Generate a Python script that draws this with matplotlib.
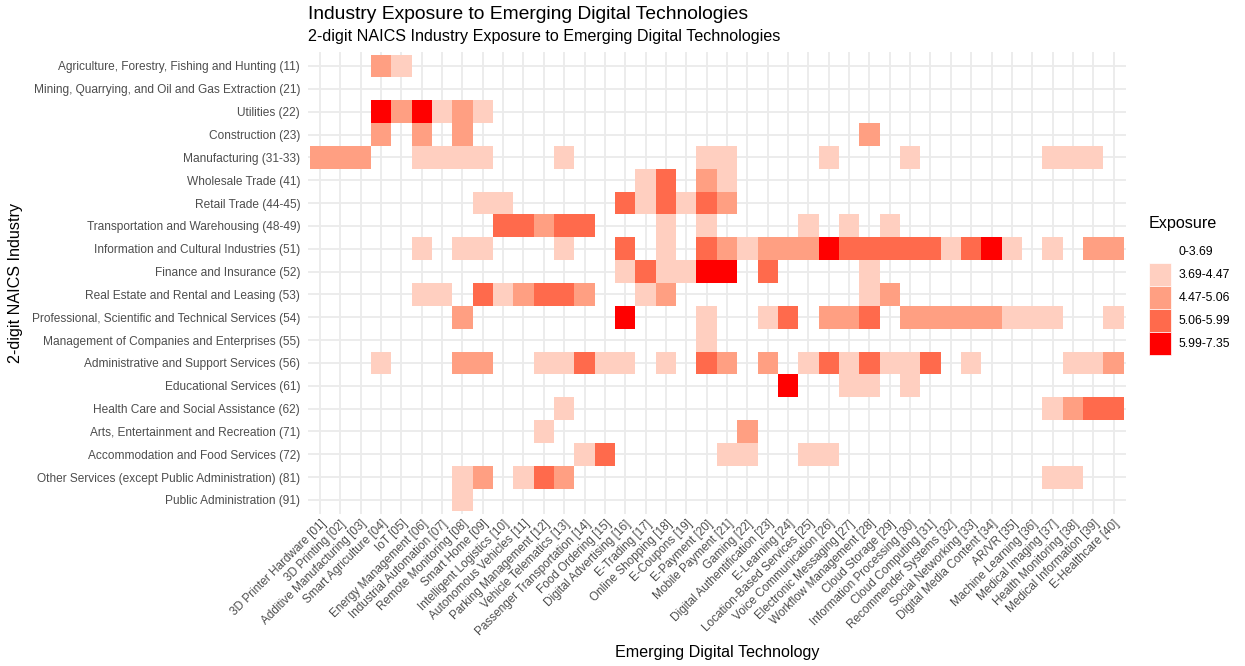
import numpy as np
import matplotlib.pyplot as plt
from matplotlib.colors import ListedColormap, BoundaryNorm
from matplotlib.patches import Patch

plt.rcParams['font.family'] = ['Liberation Sans', 'DejaVu Sans']

industries = [
    'Agriculture, Forestry, Fishing and Hunting (11)',
    'Mining, Quarrying, and Oil and Gas Extraction (21)',
    'Utilities (22)',
    'Construction (23)',
    'Manufacturing (31-33)',
    'Wholesale Trade (41)',
    'Retail Trade (44-45)',
    'Transportation and Warehousing (48-49)',
    'Information and Cultural Industries (51)',
    'Finance and Insurance (52)',
    'Real Estate and Rental and Leasing (53)',
    'Professional, Scientific and Technical Services (54)',
    'Management of Companies and Enterprises (55)',
    'Administrative and Support Services (56)',
    'Educational Services (61)',
    'Health Care and Social Assistance (62)',
    'Arts, Entertainment and Recreation (71)',
    'Accommodation and Food Services (72)',
    'Other Services (except Public Administration) (81)',
    'Public Administration (91)',
]

technologies = [
    '3D Printer Hardware', '3D Printing', 'Additive Manufacturing', 'Smart Agriculture',
    'IoT', 'Energy Management', 'Industrial Automation', 'Remote Monitoring',
    'Smart Home', 'Intelligent Logistics', 'Autonomous Vehicles', 'Parking Management',
    'Vehicle Telematics', 'Passenger Transportation', 'Food Ordering', 'Digital Advertising',
    'E-Trading', 'Online Shopping', 'E-Coupons', 'E-Payment',
    'Mobile Payment', 'Gaming', 'Digital Authentification', 'E-Learning',
    'Location-Based Services', 'Voice Communication', 'Electronic Messaging', 'Workflow Management',
    'Cloud Storage', 'Information Processing', 'Cloud Computing', 'Recommender Systems',
    'Social Networking', 'Digital Media Content', 'AR/VR', 'Machine Learning',
    'Medical Imaging', 'Health Monitoring', 'Medical Information', 'E-Healthcare',
]

# exposure per industry: {technology number: score}, missing = no tile
exposure = [
    {4: 4.8, 5: 4.1},
    {},
    {4: 6.6, 5: 4.8, 6: 6.6, 7: 4.1, 8: 4.8, 9: 4.1},
    {4: 4.8, 6: 4.8, 8: 4.8, 28: 4.8},
    {1: 4.8, 2: 4.8, 3: 4.8, 6: 4.1, 7: 4.1, 8: 4.1, 9: 4.1, 13: 4.1, 20: 4.1, 21: 4.1,
     26: 4.1, 30: 4.1, 37: 4.1, 38: 4.1, 39: 4.1},
    {17: 4.1, 18: 5.5, 20: 4.8, 21: 4.1},
    {9: 4.1, 10: 4.1, 16: 5.5, 17: 4.1, 18: 5.5, 19: 4.1, 20: 5.5, 21: 4.8},
    {10: 5.5, 11: 5.5, 12: 4.8, 13: 5.5, 14: 5.5, 18: 4.1, 20: 4.1, 25: 4.1, 27: 4.1, 29: 4.1},
    {6: 4.1, 8: 4.1, 9: 4.1, 13: 4.1, 16: 5.5, 18: 4.1, 20: 5.5, 21: 4.8, 22: 4.1, 23: 4.8,
     24: 4.8, 25: 4.8, 26: 6.6, 27: 5.5, 28: 5.5, 29: 5.5, 30: 5.5, 31: 5.5, 32: 4.1,
     33: 5.5, 34: 6.6, 35: 4.1, 37: 4.1, 39: 4.8, 40: 4.8},
    {16: 4.1, 17: 5.5, 18: 4.1, 19: 4.1, 20: 6.6, 21: 6.6, 23: 5.5, 28: 4.1},
    {6: 4.1, 7: 4.1, 9: 5.5, 10: 4.1, 11: 4.8, 12: 5.5, 13: 5.5, 14: 4.8, 17: 4.1, 18: 4.8,
     28: 4.1, 29: 4.8},
    {8: 4.8, 16: 6.6, 20: 4.1, 23: 4.1, 24: 5.5, 26: 4.8, 27: 4.8, 28: 5.5, 30: 4.8, 31: 4.8,
     32: 4.8, 33: 4.8, 34: 4.8, 35: 4.1, 36: 4.1, 37: 4.1, 40: 4.1},
    {20: 4.1},
    {4: 4.1, 8: 4.8, 9: 4.8, 12: 4.1, 13: 4.1, 14: 5.5, 15: 4.1, 16: 4.1, 18: 4.1, 20: 5.5,
     21: 4.8, 23: 4.8, 25: 4.1, 26: 5.5, 27: 4.1, 28: 5.5, 29: 4.1, 30: 4.1, 31: 5.5, 33: 4.1,
     38: 4.1, 39: 4.1, 40: 4.8},
    {24: 6.6, 27: 4.1, 28: 4.1, 30: 4.1},
    {13: 4.1, 37: 4.1, 38: 4.8, 39: 5.5, 40: 5.5},
    {12: 4.1, 22: 4.8},
    {14: 4.1, 15: 5.5, 21: 4.1, 22: 4.1, 25: 4.1, 26: 4.1},
    {8: 4.1, 9: 4.8, 11: 4.1, 12: 5.5, 13: 4.8, 37: 4.1, 38: 4.1},
    {8: 4.1},
]

breaks = [0, 3.69, 4.47, 5.06, 5.99, 7.35]
bin_labels = ['0-3.69', '3.69-4.47', '4.47-5.06', '5.06-5.99', '5.99-7.35']
bin_colors = ['#FFFFFF', '#FFCFC0', '#FF9F82', '#FF6A4C', '#FF0000']

n_ind = len(industries)
n_tech = len(technologies)
grid = np.full((n_ind, n_tech), np.nan)
for i, row in enumerate(exposure):
    for t, v in row.items():
        grid[i, t - 1] = v

cmap = ListedColormap(bin_colors)
norm = BoundaryNorm(breaks, cmap.N)

fig = plt.figure(figsize=(12.45, 6.66), dpi=100)
ax = fig.add_axes([0.2472, 0.2287, 0.9043 - 0.2472, 0.9215 - 0.2287])
ax.set_axisbelow(True)

xe = np.arange(n_tech + 1) + 0.5
ye = np.arange(n_ind + 1) + 0.5
ax.pcolormesh(xe, ye, np.ma.masked_invalid(grid), cmap=cmap, norm=norm,
              edgecolors='none', zorder=2)

ax.set_xlim(0.4, n_tech + 0.6)
ax.set_ylim(n_ind + 0.6, 0.4)

ax.set_xticks(np.arange(1, n_tech + 1))
ax.set_xticklabels(['{} [{:02d}]'.format(t, k + 1) for k, t in enumerate(technologies)],
                   rotation=45, ha='right', rotation_mode='anchor')
ax.set_yticks(np.arange(1, n_ind + 1))
ax.set_yticklabels(industries)
ax.tick_params(length=0, labelsize=8.5, labelcolor='#4D4D4D')
ax.tick_params(axis='y', pad=5.5, labelsize=8.6)
ax.tick_params(axis='x', pad=3)
ax.grid(True, color='#EBEBEB', lw=1.3)
for s in ax.spines.values():
    s.set_visible(False)

ax.set_xlabel('Emerging Digital Technology', fontsize=11.6, labelpad=5)
ax.set_ylabel('2-digit NAICS Industry', fontsize=11.6, labelpad=6)

fig.text(0.2472, 0.978, 'Industry Exposure to Emerging Digital Technologies',
         fontsize=13.9, va='center', ha='left')
fig.text(0.2472, 0.945, '2-digit NAICS Industry Exposure to Emerging Digital Technologies',
         fontsize=11.6, va='center', ha='left')

handles = [Patch(facecolor=c, edgecolor='white', lw=0.5) for c in bin_colors]
leg = ax.legend(handles, bin_labels, title='Exposure', loc='upper left',
                bbox_to_anchor=(1.015, 0.668), frameon=False, fontsize=8.8,
                title_fontsize=11.6, handlelength=1.8, handleheight=2.52,
                labelspacing=0.0, handletextpad=0.6, alignment='left')
leg._legend_box.sep = 6

fig.savefig('out.png', dpi=100, facecolor='white')
